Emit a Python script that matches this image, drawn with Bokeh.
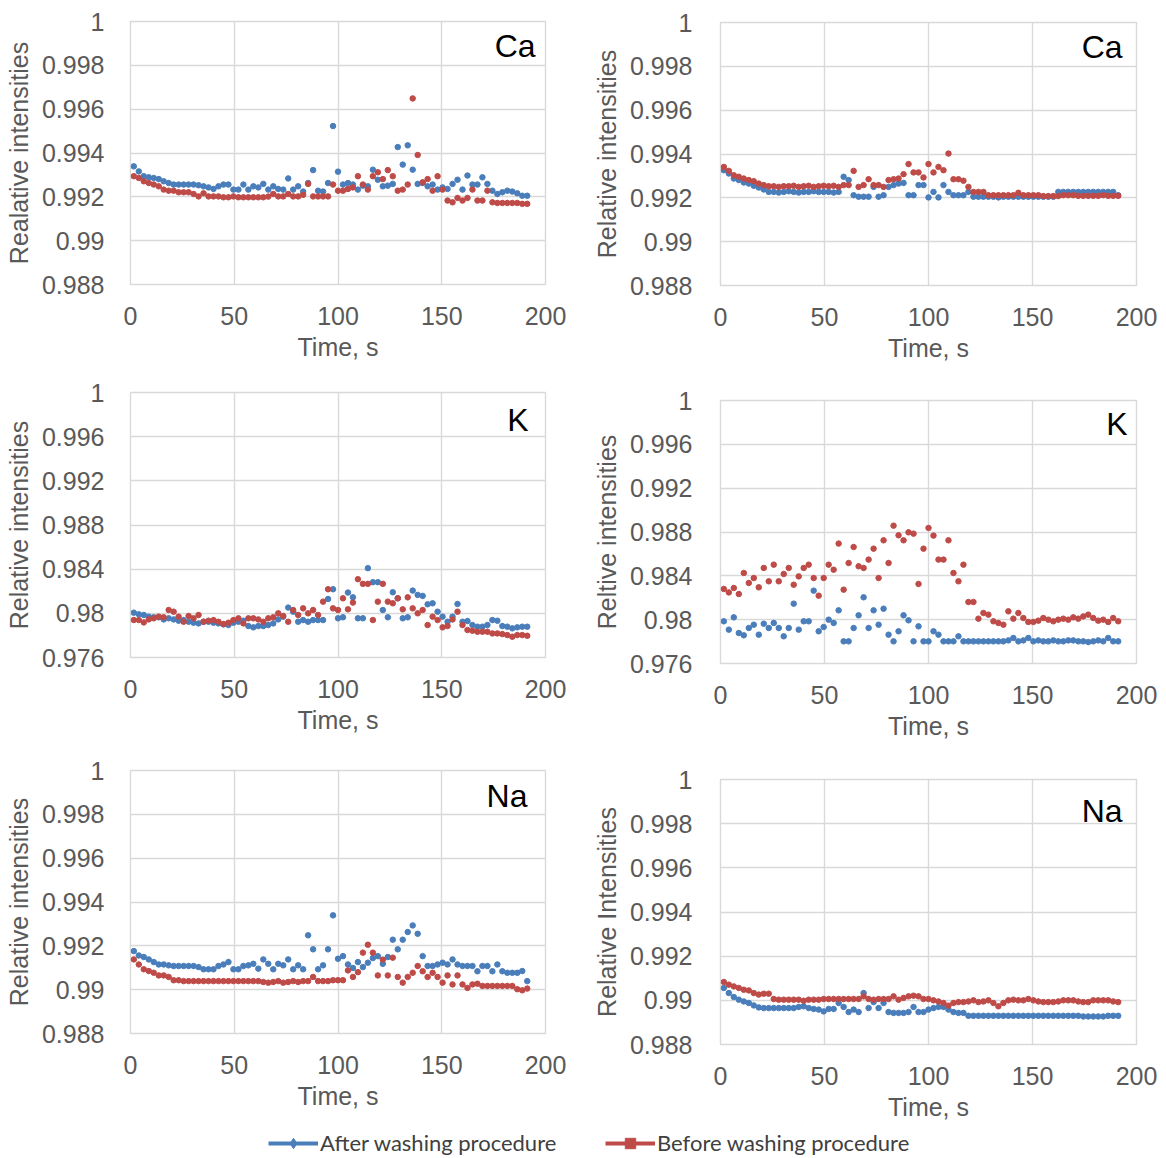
from bokeh.plotting import figure
from bokeh.models import Range1d, FixedTicker, CustomJSTickFormatter, Label, Legend, LegendItem
from bokeh.layouts import row, column
from bokeh.embed import file_html
from bokeh.resources import INLINE

# ---------------- data ----------------
time_s = [1.6, 4.0, 6.4, 8.8, 11.2, 13.6, 16.0, 18.4, 20.8, 23.2,
          25.6, 28.0, 30.4, 32.8, 35.2, 37.6, 40.0, 42.4, 44.8, 47.2,
          49.6, 52.0, 54.4, 56.8, 59.2, 61.6, 64.0, 66.4, 68.8, 71.2,
          73.6, 76.0, 78.4, 80.8, 83.2, 85.6, 88.0, 90.4, 92.8, 95.2,
          97.6, 100.0, 102.4, 104.8, 107.2, 109.6, 112.0, 114.4, 116.8, 119.2,
          121.6, 124.0, 126.4, 128.8, 131.2, 133.6, 136.0, 138.4, 140.8, 143.2,
          145.6, 148.0, 150.4, 152.8, 155.2, 157.6, 160.0, 162.4, 164.8, 167.2,
          169.6, 172.0, 174.4, 176.8, 179.2, 181.6, 184.0, 186.4, 188.8, 191.2]

x_ticks = [0, 50, 100, 150, 200]
y_ticks_ca_na = [0.988, 0.99, 0.992, 0.994, 0.996, 0.998, 1.0]
y_ticks_k = [0.976, 0.98, 0.984, 0.988, 0.992, 0.996, 1.0]

series_names = ["After washing procedure", "Before washing procedure"]

# Panel 1 (Ca, left)
ca1_after = [0.99339, 0.99316, 0.99294, 0.99289, 0.99286, 0.99281, 0.99271, 0.99263, 0.99256, 0.99256,
             0.99256, 0.99256, 0.99256, 0.99253, 0.99248, 0.99243, 0.99236, 0.99248, 0.99256, 0.99256,
             0.99233, 0.99233, 0.99256, 0.99233, 0.99248, 0.99243, 0.99259, 0.99233, 0.99248, 0.99236,
             0.99233, 0.99284, 0.99233, 0.99248, 0.99224, 0.99263, 0.99322, 0.99228, 0.99224, 0.99263,
             0.99523, 0.99315, 0.99256, 0.99263, 0.99256, 0.99233, 0.99251, 0.99248, 0.99324, 0.99278,
             0.99248, 0.99251, 0.99259, 0.99427, 0.99347, 0.99435, 0.99324, 0.99259, 0.99263, 0.99248,
             0.99256, 0.99233, 0.99243, 0.99236, 0.99259, 0.99278, 0.99233, 0.99297, 0.99256, 0.99256,
             0.99289, 0.99259, 0.99228, 0.99213, 0.99221, 0.99228, 0.99224, 0.99216, 0.99205, 0.99205]
ca1_before = [0.99294, 0.99286, 0.99271, 0.99263, 0.99256, 0.99248, 0.99233, 0.99228, 0.99228, 0.99221,
              0.99221, 0.99221, 0.99213, 0.99202, 0.99216, 0.99202, 0.99202, 0.99202, 0.99198, 0.99198,
              0.99202, 0.99198, 0.99198, 0.99198, 0.99198, 0.99198, 0.99198, 0.99201, 0.99213, 0.99202,
              0.99202, 0.99213, 0.99202, 0.99202, 0.99209, 0.99259, 0.99202, 0.99202, 0.99202, 0.99202,
              0.99256, 0.99228, 0.99228, 0.99236, 0.99243, 0.99294, 0.99256, 0.99233, 0.99294, 0.99312,
              0.99281, 0.99322, 0.99294, 0.99228, 0.99233, 0.99256, 0.99649, 0.99391, 0.99266, 0.99281,
              0.99228, 0.99294, 0.99233, 0.99183, 0.99175, 0.99195, 0.99183, 0.99195, 0.99233, 0.99183,
              0.99183, 0.99228, 0.99175, 0.99172, 0.99172, 0.99172, 0.99172, 0.99172, 0.99168, 0.99168]

# Panel 2 (Ca, right)
ca2_after = [0.99326, 0.99311, 0.99288, 0.99281, 0.9927, 0.99265, 0.99255, 0.99247, 0.99238, 0.99227,
             0.99227, 0.99224, 0.99227, 0.9923, 0.99227, 0.99224, 0.99227, 0.99227, 0.9923, 0.99227,
             0.99227, 0.99227, 0.99224, 0.99227, 0.99296, 0.99281, 0.99212, 0.99205, 0.99205, 0.99205,
             0.9925, 0.99205, 0.99212, 0.9925, 0.99258, 0.99265, 0.99268, 0.99212, 0.99212, 0.99258,
             0.99258, 0.99202, 0.99227, 0.99202, 0.99258, 0.99227, 0.99212, 0.99212, 0.99212, 0.99227,
             0.99205, 0.99205, 0.99205, 0.99205, 0.99205, 0.99202, 0.99205, 0.99205, 0.99205, 0.99205,
             0.99205, 0.99205, 0.99205, 0.99205, 0.99205, 0.99205, 0.99205, 0.99227, 0.99227, 0.99227,
             0.99227, 0.99227, 0.99227, 0.99227, 0.99227, 0.99227, 0.99227, 0.99227, 0.99227, 0.99212]
ca2_before = [0.99341, 0.99323, 0.99303, 0.99296, 0.99288, 0.99281, 0.99276, 0.99265, 0.99258, 0.99253,
              0.99253, 0.9925, 0.99253, 0.99253, 0.99255, 0.9925, 0.99253, 0.99255, 0.9925, 0.99253,
              0.99255, 0.99253, 0.99255, 0.9925, 0.99258, 0.99258, 0.99323, 0.9925, 0.99258, 0.99285,
              0.99258, 0.99258, 0.9925, 0.99281, 0.99285, 0.99288, 0.99308, 0.99354, 0.99316, 0.99316,
              0.99293, 0.99354, 0.99316, 0.99341, 0.99326, 0.99402, 0.99285, 0.99285, 0.99278, 0.9925,
              0.99227, 0.99227, 0.99227, 0.99212, 0.99212, 0.99212, 0.99212, 0.99212, 0.99212, 0.99223,
              0.99212, 0.99212, 0.99212, 0.99212, 0.99208, 0.99208, 0.99208, 0.99208, 0.99212, 0.99212,
              0.99212, 0.99209, 0.99209, 0.99209, 0.99209, 0.99209, 0.99212, 0.99209, 0.99209, 0.99209]

# Panel 3 (K, left)
k1_after = [0.98006, 0.97991, 0.97985, 0.9797, 0.97964, 0.97964, 0.97945, 0.97955, 0.97945, 0.97933,
            0.97939, 0.97924, 0.97915, 0.97909, 0.97924, 0.97924, 0.97915, 0.97909, 0.979, 0.97894,
            0.97915, 0.97924, 0.97933, 0.97885, 0.97873, 0.97885, 0.97885, 0.97894, 0.97909, 0.97945,
            0.9797, 0.98052, 0.98015, 0.97924, 0.97939, 0.97924, 0.97939, 0.97939, 0.97939, 0.9813,
            0.98218, 0.97955, 0.97964, 0.98188, 0.98145, 0.97955, 0.97955, 0.98409, 0.98282, 0.98282,
            0.9803, 0.97964, 0.98191, 0.98136, 0.97955, 0.97964, 0.98206, 0.98167, 0.98158, 0.98082,
            0.98091, 0.98015, 0.9797, 0.97924, 0.9797, 0.98085, 0.97924, 0.9793, 0.97894, 0.97879,
            0.97879, 0.97894, 0.97939, 0.97933, 0.97885, 0.97879, 0.97864, 0.97873, 0.97879, 0.97879]
k1_before = [0.97939, 0.97939, 0.97918, 0.97945, 0.97955, 0.9797, 0.97964, 0.9803, 0.98015, 0.9797,
             0.97924, 0.97976, 0.97955, 0.97985, 0.97924, 0.97933, 0.97939, 0.97924, 0.97903, 0.97915,
             0.97939, 0.97955, 0.97909, 0.97955, 0.97955, 0.97945, 0.97924, 0.97955, 0.97964, 0.98,
             0.97976, 0.97924, 0.9803, 0.97985, 0.98045, 0.98, 0.9803, 0.97985, 0.98106, 0.98218,
             0.98045, 0.9803, 0.98136, 0.98036, 0.98097, 0.98309, 0.98267, 0.98267, 0.97939, 0.98106,
             0.98267, 0.98106, 0.98091, 0.98136, 0.98036, 0.98145, 0.98045, 0.98, 0.9803, 0.97894,
             0.9797, 0.97939, 0.97873, 0.97885, 0.97945, 0.98015, 0.97894, 0.97849, 0.97842, 0.97833,
             0.97833, 0.97833, 0.97818, 0.97818, 0.97812, 0.97803, 0.97788, 0.97803, 0.97803, 0.97797]

# Panel 4 (K, right)
k2_after = [0.97985, 0.97909, 0.98021, 0.97878, 0.97857, 0.97924, 0.97954, 0.97863, 0.97963, 0.97924,
            0.9797, 0.97924, 0.97848, 0.97924, 0.98146, 0.97909, 0.97985, 0.97985, 0.98265, 0.97894,
            0.97933, 0.98, 0.9797, 0.98085, 0.97802, 0.97802, 0.97924, 0.9804, 0.98204, 0.97924,
            0.98085, 0.97954, 0.981, 0.97863, 0.97802, 0.97894, 0.9804, 0.97994, 0.97802, 0.97939,
            0.97802, 0.97802, 0.97894, 0.97863, 0.97802, 0.97802, 0.97802, 0.97848, 0.97802, 0.97802,
            0.97802, 0.97802, 0.97802, 0.97802, 0.97802, 0.97802, 0.97802, 0.97811, 0.97833, 0.97802,
            0.97811, 0.97833, 0.97802, 0.97811, 0.97802, 0.97802, 0.97811, 0.97802, 0.97802, 0.97811,
            0.97811, 0.97802, 0.97802, 0.97796, 0.97802, 0.97811, 0.97802, 0.97833, 0.97802, 0.97802]
k2_before = [0.9828, 0.98249, 0.98289, 0.98234, 0.98426, 0.98335, 0.9838, 0.98295, 0.98472, 0.9835,
             0.98502, 0.9835, 0.98417, 0.98472, 0.98319, 0.98395, 0.98472, 0.98502, 0.9838, 0.98219,
             0.9838, 0.98502, 0.98456, 0.98694, 0.98274, 0.98517, 0.98663, 0.98487, 0.98472, 0.98548,
             0.98648, 0.9838, 0.98724, 0.98517, 0.98858, 0.9877, 0.98724, 0.98797, 0.98785, 0.98326,
             0.98648, 0.98837, 0.98767, 0.98548, 0.98548, 0.98724, 0.98426, 0.9835, 0.98502, 0.98161,
             0.98161, 0.98009, 0.98061, 0.98046, 0.97985, 0.9797, 0.97954, 0.98076, 0.98009, 0.98061,
             0.98015, 0.97979, 0.97979, 0.97991, 0.98015, 0.98, 0.97985, 0.98, 0.98009, 0.98,
             0.98021, 0.98009, 0.9803, 0.98046, 0.98015, 0.97991, 0.98, 0.97979, 0.98015, 0.97985]

# Panel 5 (Na, left)
na1_after = [0.99176, 0.99156, 0.99149, 0.99138, 0.99126, 0.99115, 0.99115, 0.99111, 0.99108, 0.99108,
             0.99108, 0.99108, 0.99108, 0.99103, 0.99093, 0.99093, 0.99093, 0.99108, 0.99115, 0.99126,
             0.99093, 0.99093, 0.99108, 0.99111, 0.99118, 0.99096, 0.99138, 0.99118, 0.99093, 0.99118,
             0.99111, 0.99138, 0.99093, 0.99111, 0.99093, 0.99248, 0.99184, 0.99093, 0.99111, 0.99184,
             0.99339, 0.99141, 0.99153, 0.99115, 0.99099, 0.99126, 0.99103, 0.99123, 0.99144, 0.99153,
             0.99118, 0.99149, 0.99228, 0.99184, 0.99228, 0.99263, 0.99293, 0.99255, 0.99153, 0.99108,
             0.99108, 0.99115, 0.99123, 0.99115, 0.99138, 0.99115, 0.99108, 0.99108, 0.99108, 0.99084,
             0.99108, 0.99108, 0.99084, 0.99115, 0.99084, 0.99077, 0.99077, 0.99077, 0.99085, 0.99039]
na1_before = [0.99138, 0.99115, 0.99093, 0.99085, 0.99077, 0.99065, 0.99065, 0.99058, 0.99043, 0.99043,
              0.99039, 0.99039, 0.99039, 0.99039, 0.99039, 0.99039, 0.99039, 0.99039, 0.99039, 0.99039,
              0.99039, 0.99039, 0.99039, 0.99039, 0.99039, 0.99039, 0.99035, 0.99032, 0.99035, 0.99039,
              0.99032, 0.99035, 0.99039, 0.99035, 0.99039, 0.99039, 0.99058, 0.99039, 0.99039, 0.99039,
              0.99043, 0.99043, 0.99043, 0.99088, 0.99058, 0.9908, 0.99169, 0.99205, 0.99169, 0.99065,
              0.99137, 0.99065, 0.99146, 0.99058, 0.99032, 0.99058, 0.99077, 0.99108, 0.99084, 0.99058,
              0.99077, 0.99058, 0.99032, 0.99065, 0.99024, 0.99065, 0.99024, 0.99008, 0.99024, 0.99027,
              0.99017, 0.99017, 0.99017, 0.99017, 0.99017, 0.99017, 0.99017, 0.99002, 0.98997, 0.99005]

# Panel 6 (Na, right)
na2_after = [0.99056, 0.99033, 0.99015, 0.99003, 0.98995, 0.98988, 0.98977, 0.98968, 0.98965, 0.98965,
             0.98965, 0.98965, 0.98965, 0.98965, 0.98965, 0.9897, 0.98973, 0.98965, 0.98961, 0.98958,
             0.9895, 0.98961, 0.98961, 0.98988, 0.9897, 0.98947, 0.98958, 0.98947, 0.99033, 0.98965,
             0.98992, 0.98965, 0.98988, 0.98947, 0.98943, 0.98943, 0.98943, 0.98947, 0.9897, 0.98947,
             0.98947, 0.98958, 0.98965, 0.9897, 0.9897, 0.98958, 0.98947, 0.98943, 0.98943, 0.9893,
             0.9893, 0.9893, 0.9893, 0.9893, 0.9893, 0.9893, 0.9893, 0.9893, 0.9893, 0.9893,
             0.9893, 0.9893, 0.9893, 0.9893, 0.9893, 0.9893, 0.9893, 0.9893, 0.9893, 0.9893,
             0.9893, 0.9893, 0.98927, 0.98927, 0.98927, 0.98927, 0.98927, 0.9893, 0.9893, 0.9893]
na2_before = [0.99083, 0.99071, 0.99063, 0.99056, 0.99048, 0.99045, 0.99033, 0.99026, 0.9903, 0.9903,
              0.99006, 0.99003, 0.99003, 0.99003, 0.99003, 0.99003, 0.98998, 0.99003, 0.99003, 0.99003,
              0.99006, 0.99006, 0.99006, 0.99006, 0.99006, 0.99006, 0.99006, 0.99006, 0.99018, 0.99006,
              0.99003, 0.99006, 0.99006, 0.99006, 0.99018, 0.99003, 0.99011, 0.99018, 0.99021, 0.99018,
              0.99006, 0.99006, 0.99, 0.98995, 0.98988, 0.98976, 0.98988, 0.98992, 0.98992, 0.98995,
              0.99, 0.98992, 0.98995, 0.99, 0.98988, 0.98973, 0.98988, 0.99, 0.99003, 0.99,
              0.99, 0.99006, 0.99, 0.98995, 0.98992, 0.98992, 0.98992, 0.98995, 0.99, 0.99,
              0.99, 0.98995, 0.98992, 0.98992, 0.99, 0.99, 0.99, 0.99, 0.98995, 0.98992]

# ---------------- style ----------------
BLUE = "#4A7EBB"
RED = "#BE4B48"
GRID = "#D9D9D9"
TXT = "#595959"
FONT = "Liberation Sans"


def make_panel(after, before, yticks, ylabel, element, lab_x, lab_dy,
               width, height, left, right, top, bottom, ystand):
    p = figure(width=width, height=height, output_backend="svg", toolbar_location=None,
               x_range=Range1d(0, 200), y_range=Range1d(yticks[0], yticks[-1]),
               min_border_left=left, min_border_right=right,
               min_border_top=top, min_border_bottom=bottom)
    p.xaxis.ticker = FixedTicker(ticks=x_ticks)
    p.yaxis.ticker = FixedTicker(ticks=yticks)
    p.yaxis.formatter = CustomJSTickFormatter(code="return String(parseFloat(tick.toFixed(3)));")
    p.xgrid.grid_line_color = GRID
    p.ygrid.grid_line_color = GRID
    p.xgrid.grid_line_width = 1.4
    p.ygrid.grid_line_width = 1.4
    p.outline_line_color = GRID
    p.outline_line_width = 1.4
    for ax in (p.xaxis, p.yaxis):
        ax.axis_line_color = None
        ax.major_tick_line_color = None
        ax.minor_tick_line_color = None
        ax.major_label_text_font = FONT
        ax.major_label_text_font_size = "25px"
        ax.major_label_text_color = TXT
        ax.axis_label_text_font = FONT
        ax.axis_label_text_font_size = "25px"
        ax.axis_label_text_color = TXT
        ax.axis_label_text_font_style = "normal"
    p.xaxis.axis_label = "Time, s"
    p.yaxis.axis_label = ylabel
    p.xaxis.major_label_standoff = 16
    p.xaxis.axis_label_standoff = 5
    p.yaxis.major_label_standoff = ystand
    p.yaxis.axis_label_standoff = 6
    p.scatter(time_s, after, size=5.5, fill_color=BLUE, line_color=BLUE)
    p.scatter(time_s, before, size=5.5, fill_color=RED, line_color=RED)
    p.add_layout(Label(x=lab_x, y=yticks[-1], text=element, text_align="right",
                       text_baseline="top", y_offset=lab_dy, text_font=FONT,
                       text_font_size="32px", text_color="black"))
    return p


# left column: frames at x 130-545 ; right column: frames at x 720-1136
f1 = make_panel(ca1_after, ca1_before, y_ticks_ca_na, "Realative intensities", "Ca", 195.2, -6,
                588, 372, 130, 43, 21, 88, 20)
f3 = make_panel(k1_after, k1_before, y_ticks_k, "Relative intensities", "K", 191.8, -9,
                588, 373, 130, 43, 20, 88, 20)
f5 = make_panel(na1_after, na1_before, y_ticks_ca_na, "Relative intensities", "Na", 191.3, -7,
                588, 383, 130, 43, 25, 95, 20)
f2 = make_panel(ca2_after, ca2_before, y_ticks_ca_na, "Relative intensities", "Ca", 193.3, -6,
                570, 373, 132, 22, 22, 88, 22)
f4 = make_panel(k2_after, k2_before, y_ticks_k, "Reltive intensities", "K", 195.7, -5,
                570, 378, 132, 22, 27, 88, 22)
f6 = make_panel(na2_after, na2_before, y_ticks_ca_na, "Relative Intensities", "Na", 193.3, -13,
                570, 377, 132, 22, 28, 84, 22)

# legend strip along the bottom (proxy glyphs sit outside the visible range)
lf = figure(width=1158, height=30, output_backend="svg", toolbar_location=None,
            x_range=Range1d(0, 1), y_range=Range1d(0, 1),
            x_axis_location=None, y_axis_location=None,
            min_border_left=0, min_border_right=0, min_border_top=0, min_border_bottom=0)
lf.grid.visible = False
lf.outline_line_color = None
legend_specs = [(0, BLUE, "diamond", 268), (1, RED, "square", 605)]
for idx, color, marker, xpos in legend_specs:
    lr = lf.line(x=[5, 6], y=[5, 5], line_color=color, line_width=4)
    mr = lf.scatter(x=[5], y=[5], marker=marker, size=12, fill_color=color, line_color=color)
    leg = Legend(items=[LegendItem(label=series_names[idx], renderers=[lr, mr])],
                 location=(xpos, 2), orientation="horizontal",
                 background_fill_alpha=0, border_line_color=None,
                 glyph_width=50, glyph_height=26, label_height=20,
                 label_standoff=2, padding=0, margin=0, spacing=0,
                 label_text_font="Lato", label_text_font_size="22px",
                 label_text_color="#404040")
    lf.add_layout(leg)

layout = column(row(column(f1, f3, f5), column(f2, f4, f6)), lf)
open("out.html", "w").write(file_html(layout, INLINE))
